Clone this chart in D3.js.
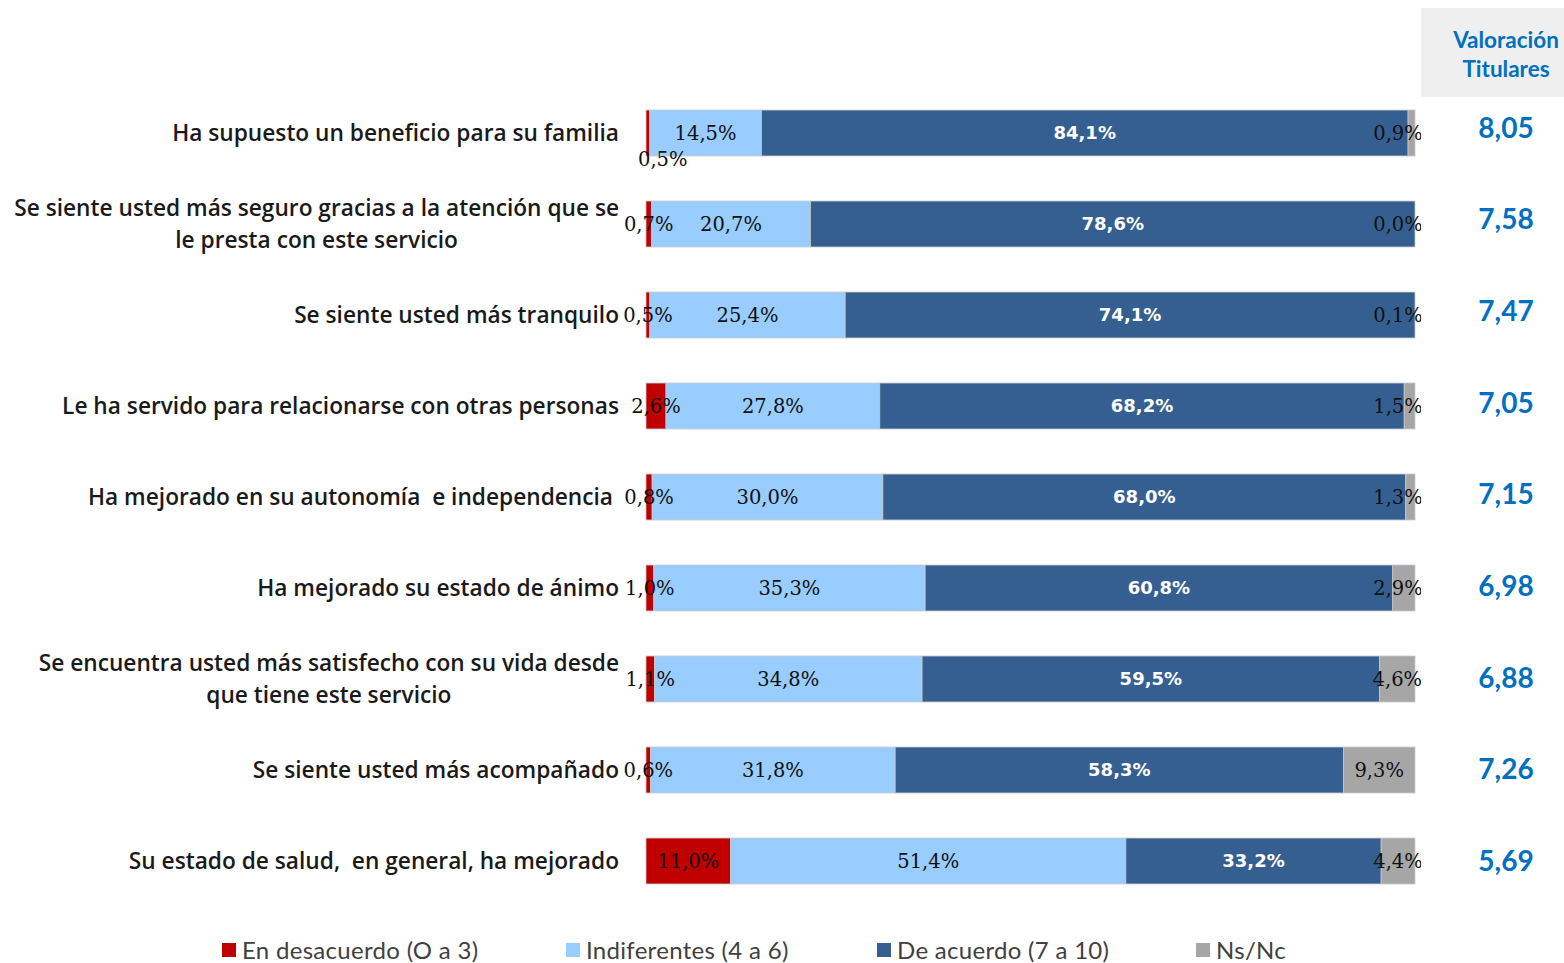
<!DOCTYPE html>
<html>
<head>
<meta charset="utf-8">
<script src="https://cdn.jsdelivr.net/npm/d3@7"></script>
<style>
  html, body { margin: 0; padding: 0; background: #fff; }
  svg { display: block; }
</style>
</head>
<body>
<svg id="chart" width="1564" height="963"></svg>
<script>
// Valoración del servicio: stacked 100% bars + score column on the right.
const categories = [
  'Ha supuesto un beneficio para su familia',
  'Se siente usted más seguro gracias a la atención que se|le presta con este servicio',
  'Se siente usted más tranquilo',
  'Le ha servido para relacionarse con otras personas',
  'Ha mejorado en su autonomía  e independencia',
  'Ha mejorado su estado de ánimo',
  'Se encuentra usted más satisfecho con su vida desde|que tiene este servicio',
  'Se siente usted más acompañado',
  'Su estado de salud,  en general, ha mejorado',
];
const desacuerdo   = [0.5, 0.7, 0.5, 2.6, 0.8, 1.0, 1.1, 0.6, 11.0];
const indiferentes = [14.5, 20.7, 25.4, 27.8, 30.0, 35.3, 34.8, 31.8, 51.4];
const deAcuerdo    = [84.1, 78.6, 74.1, 68.2, 68.0, 60.8, 59.5, 58.3, 33.2];
const nsnc         = [0.9, 0.0, 0.1, 1.5, 1.3, 2.9, 4.6, 9.3, 4.4];
const valoracion   = ['8,05', '7,58', '7,47', '7,05', '7,15', '6,98', '6,88', '7,26', '5,69'];
const seriesNames  = ['En desacuerdo (O a 3)', 'Indiferentes (4 a 6)', 'De acuerdo (7 a 10)', 'Ns/Nc'];
const scoreTitle   = ['Valoración', 'Titulares'];

const colors = ['#c00000', '#99ccff', '#365f91', '#a6a6a6'];
const blue = '#0070c0';

const svg = d3.select('#chart');
const W = 1564;

const x = d3.scaleLinear().domain([0, 100]).range([646, 1415]);
const y = d3.scaleBand().domain(d3.range(categories.length))
  .range([87.5, 906.5]).paddingInner(0.495).paddingOuter(0.2475);
// the score column sits on its own, slightly wider, grid
const yScore = d3.scalePoint().domain(d3.range(categories.length)).range([128, 861]);

// stacked segments
const rows = categories.map((c, i) => {
  const vals = [desacuerdo[i], indiferentes[i], deAcuerdo[i], nsnc[i]];
  let acc = 0;
  return vals.map((v, k) => {
    const s = { row: i, k, v, x0: acc, x1: Math.min(100, acc + v) };
    acc += v;
    return s;
  });
});
const segs = rows.flat();

svg.append('defs').append('clipPath').attr('id', 'plotclip')
  .append('rect').attr('x', 0).attr('y', 0).attr('width', 1421).attr('height', 963);

svg.append('g').selectAll('rect').data(segs.filter(d => d.v > 0)).join('rect')
  .attr('x', d => x(d.x0))
  .attr('y', d => y(d.row))
  .attr('width', d => Math.max(0, x(d.x1) - x(d.x0)))
  .attr('height', y.bandwidth())
  .attr('fill', d => colors[d.k])
  .attr('stroke', '#c8c8c8').attr('stroke-width', 0.8);

// data labels
const fmtPct = v => v.toFixed(1).replace('.', ',') + '%';
const labels = svg.append('g').attr('clip-path', 'url(#plotclip)');
const lab = labels.selectAll('text').data(segs).join('text')
  .attr('x', d => {
    const c = (x(d.x0) + x(d.x1)) / 2;
    return d.k === 3 ? Math.min(c, 1398) : c;
  })
  .attr('y', d => y(d.row) + y.bandwidth() / 2)
  .attr('dy', '0.36em')
  .attr('text-anchor', 'middle')
  .attr('font-family', d => d.k === 2 ? 'DejaVu Sans' : 'DejaVu Serif')
  .attr('font-weight', d => d.k === 2 ? 'bold' : 'normal')
  .attr('font-size', d => d.k === 2 ? 18 : 19.5)
  .attr('fill', d => d.k === 2 ? '#ffffff' : '#111')
  .text(d => fmtPct(d.v));

// red label colliding with the light-blue one drops under the bar
const boxes = new Map();
lab.each(function (d) { boxes.set(`${d.row}-${d.k}`, this.getBBox()); });
lab.filter(d => d.k === 0).each(function (d) {
  const a = boxes.get(`${d.row}-0`), b = boxes.get(`${d.row}-1`);
  if (a.x + a.width + 4 > b.x) {
    d3.select(this)
      .attr('x', x(d.x0) + a.width / 2 - 8)
      .attr('y', y(d.row) + y.bandwidth() + 3)
      .attr('dy', '0.36em');
  }
});

// category labels, right aligned block, multi-line centred inside
const catG = svg.append('g')
  .attr('font-family', '"Open Sans", Lato, sans-serif')
  .attr('font-size', 22.7).attr('font-weight', 600).attr('fill', '#1a1a1a');
categories.forEach((c, i) => {
  const lines = c.split('|');
  const cy = y(i) + y.bandwidth() / 2;
  const t = catG.append('text').attr('text-anchor', 'middle').attr('xml:space', 'preserve');
  lines.forEach((ln, j) => {
    t.append('tspan').attr('x', 0)
      .attr('y', cy + (j - (lines.length - 1) / 2) * 32)
      .attr('dy', '0.35em').text(ln);
  });
  let maxW = 0;
  t.selectAll('tspan').each(function () { maxW = Math.max(maxW, this.getComputedTextLength()); });
  const right = i === 4 ? 613 : 619;
  t.selectAll('tspan').attr('x', right - maxW / 2);
});

// score column
svg.append('rect').attr('x', 1421).attr('y', 8).attr('width', W - 1421).attr('height', 89)
  .attr('fill', '#efefef');
svg.append('g').selectAll('text').data(scoreTitle).join('text')
  .attr('x', 1506).attr('y', (d, j) => 40 + j * 29).attr('dy', '0.35em')
  .attr('text-anchor', 'middle')
  .attr('font-family', 'Lato, sans-serif').attr('font-weight', 'bold').attr('font-size', 22.5)
  .attr('fill', blue).text(d => d);
svg.append('g').selectAll('text').data(valoracion).join('text')
  .attr('x', 1506).attr('y', (d, i) => yScore(i)).attr('dy', '0.35em')
  .attr('text-anchor', 'middle')
  .attr('font-family', 'Lato, sans-serif').attr('font-weight', 'bold').attr('font-size', 28)
  .attr('fill', blue).text(d => d);

// legend
const legendX = [222, 566, 877, 1196];
const lg = svg.append('g').selectAll('g').data(seriesNames).join('g')
  .attr('transform', (d, k) => `translate(${legendX[k]},950)`);
lg.append('rect').attr('x', 0).attr('y', -7).attr('width', 14).attr('height', 14)
  .attr('fill', (d, k) => colors[k]);
lg.append('text').attr('x', 20).attr('y', 0).attr('dy', '0.36em')
  .attr('font-family', 'Lato, sans-serif').attr('font-size', 24).attr('letter-spacing', 0.3)
  .attr('fill', '#404040')
  .text(d => d);
</script>
</body>
</html>
